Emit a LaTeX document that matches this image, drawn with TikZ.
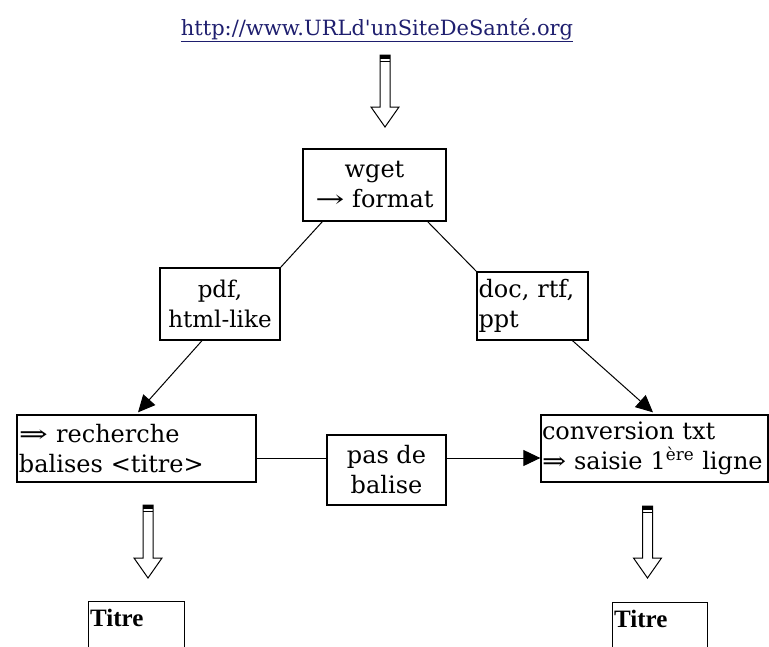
\documentclass[tikz,border=0pt]{standalone}
\usepackage{fontspec}
\setmainfont{DejaVu Serif}
\newfontfamily\urlfont{DejaVu Serif}[Ligatures=TeXOff]
\newfontfamily\titrefont{Liberation Serif}
\usetikzlibrary{arrows.meta}
\definecolor{urlblue}{RGB}{30,30,110}
\newcommand\widearrow[2][1.45]{\scalebox{#1}[1]{#2}}
\begin{document}
\begin{tikzpicture}[x=1pt,y=-1pt,
  box/.style={draw,line width=1.3pt,inner sep=0pt,font=\fontsize{24}{30}\selectfont},
  cbox/.style={box,align=center},
  lbox/.style={box,align=left},
  link/.style={line width=1pt},
  arr/.style={link,-{Triangle[length=17pt,width=16pt]}},
  titrebox/.style={draw,line width=1.3pt,anchor=north west,inner xsep=1.5pt,inner ysep=2pt,
    font=\titrefont\bfseries\fontsize{25}{28}\selectfont,align=left,
    text height=23pt,text depth=30pt},
  pics/hollowdown/.style={code={
    \fill (-5,0) rectangle (5,4);
    \fill (-5,5.5) rectangle (5,7);
    \draw[line width=1pt,line join=miter] (-5,0) -- (-5,#1) -- (-14,#1) -- (0,#1+20) -- (14,#1) -- (5,#1) -- (5,0) -- cycle;
  }}
]
\path[use as bounding box] (0,0) rectangle (769,646);

\node[font=\urlfont\fontsize{21}{26}\selectfont,text=urlblue,inner sep=0pt] (url) at (377,30)
  {\underline{http://www.URLd'unSiteDeSanté.org}};

\node[cbox,minimum width=143pt,minimum height=72pt] (wget) at (374.5,185) {wget\\\widearrow{→} format};
\node[cbox,minimum width=120pt,minimum height=72pt,font=\fontsize{23}{30}\selectfont] (pdf) at (220,304) {pdf,\\html-like};
\node[lbox,minimum width=111pt,minimum height=68pt,text width=108pt] (doc) at (532.5,306) {doc, rtf,\\ppt};
\node[lbox,minimum width=239pt,minimum height=67pt,text width=235pt] (rech) at (136.5,448.5) {\widearrow{⇒} recherche\\balises <titre>};
\node[cbox,minimum width=119pt,minimum height=70pt] (pasde) at (386.5,470) {pas de\\balise};
\node[lbox,minimum width=227pt,minimum height=67pt,text width=225pt] (conv) at (654.5,448.5) {conversion txt\\\mbox{\widearrow[1.2]{⇒} saisie 1\textsuperscript{ère} ligne}};

\node[titrebox,text width=93pt] (titreL) at (88,601) {Titre};
\node[titrebox,text width=92pt] (titreR) at (612,602) {Titre};

% hollow arrows
\pic at (385,55) {hollowdown=52};
\pic at (148,505) {hollowdown=53};
\pic at (647.5,506) {hollowdown=52};

% connectors
\draw[link] ([xshift=20pt]wget.south west) -- (pdf.north east);
\draw[link] ([xshift=-19pt]wget.south east) -- (doc.north west);
\draw[arr] ([xshift=-18pt]pdf.south) -- ([xshift=1.5pt,yshift=2pt]rech.north);
\draw[arr] ([xshift=40pt]doc.south) -- ([xshift=-1.5pt,yshift=2pt]conv.north);
\draw[link] ([yshift=-9.5pt]rech.east) -- ([yshift=12pt]pasde.west);
\draw[arr] ([yshift=12pt]pasde.east) -- ([yshift=-9.5pt]conv.west);
\end{tikzpicture}
\end{document}
